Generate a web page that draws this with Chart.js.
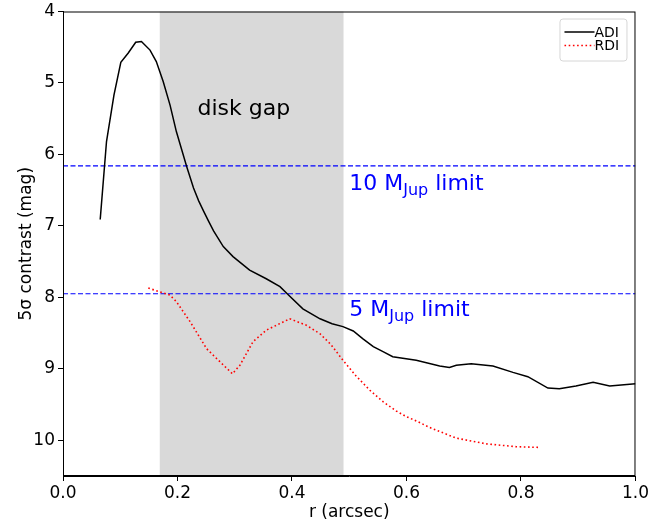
<!DOCTYPE html>
<html>
<head>
<meta charset="utf-8">
<script src="https://cdn.jsdelivr.net/npm/chart.js@4.4.1/dist/chart.umd.min.js"></script>
<style>
  body { margin: 0; background: #fff; }
</style>
</head>
<body>
<canvas id="myChart" width="651" height="527"></canvas>
<script>
// contrast curves, r in arcsec, contrast in mag
var adiR = [0.065, 0.076, 0.089, 0.101, 0.114, 0.127, 0.137, 0.152, 0.163, 0.175, 0.187, 0.198, 0.216, 0.228, 0.237,
    0.246, 0.254, 0.263, 0.280, 0.297, 0.326, 0.355, 0.379, 0.393, 0.419, 0.449, 0.470, 0.489, 0.507, 0.524, 0.542,
    0.559, 0.576, 0.617, 0.658, 0.675, 0.687, 0.713, 0.751, 0.786, 0.812, 0.847, 0.867, 0.896, 0.926, 0.955, 1.0]
var adiMag = [6.91, 5.82, 5.17, 4.71, 4.58, 4.43, 4.42, 4.54, 4.70, 4.98, 5.31, 5.68, 6.17, 6.47, 6.65,
    6.80, 6.93, 7.07, 7.29, 7.43, 7.62, 7.74, 7.85, 7.96, 8.16, 8.30, 8.37, 8.41, 8.47, 8.58, 8.69,
    8.76, 8.83, 8.88, 8.96, 8.98, 8.95, 8.93, 8.96, 9.05, 9.11, 9.27, 9.28, 9.24, 9.19, 9.24, 9.21]
var rdiR = [0.149, 0.187, 0.198, 0.222, 0.251, 0.274, 0.296, 0.309, 0.332, 0.355, 0.396, 0.425, 0.449, 0.468,
    0.489, 0.512, 0.536, 0.559, 0.582, 0.600, 0.620, 0.640, 0.687, 0.739, 0.792, 0.832]
var rdiMag = [7.87, 7.97, 8.06, 8.34, 8.72, 8.90, 9.07, 8.95, 8.62, 8.46, 8.30, 8.39, 8.51, 8.66,
    8.88, 9.10, 9.30, 9.46, 9.59, 9.67, 9.74, 9.82, 9.97, 10.05, 10.09, 10.10]

var gap = [0.169, 0.490]
var limitMag = [6.16, 7.95]
var limitNames = ['10', '5']
var limitTextPos = [[0.5, 6.5], [0.5, 8.26]]
var xTicks = [0.0, 0.2, 0.4, 0.6, 0.8, 1.0]
var yTicks = [4, 5, 6, 7, 8, 9, 10]

function pairs(xs, ys) {
    var out = []
    for (var i = 0; i < xs.length; i++) out.push({ x: xs[i], y: ys[i] })
    return out
}

var FONT = "'DejaVu Sans', sans-serif"

var annot = {
    id: 'annot',
    beforeDatasetsDraw: function (chart) {
        var c = chart.ctx, a = chart.chartArea
        var xs = chart.scales.x
        c.save()
        c.fillStyle = '#d9d9d9'
        var x0 = xs.getPixelForValue(gap[0]), x1 = xs.getPixelForValue(gap[1])
        c.fillRect(x0, a.top, x1 - x0, a.bottom - a.top)
        c.restore()
    },
    afterDraw: function (chart) {
        var c = chart.ctx, a = chart.chartArea
        var xs = chart.scales.x, ys = chart.scales.y
        c.save()
        // frame
        c.strokeStyle = '#000'
        c.lineWidth = 1
        c.strokeRect(a.left + 0.5, a.top + 0.5, a.right - a.left - 1, a.bottom - a.top - 1)

        // disk gap label
        c.fillStyle = '#000'
        c.font = '22px ' + FONT
        c.textBaseline = 'alphabetic'
        c.textAlign = 'left'
        c.fillText('disk gap', xs.getPixelForValue(0.235), ys.getPixelForValue(5.45))

        // limit labels with subscript
        c.fillStyle = '#0000ff'
        for (var i = 0; i < limitNames.length; i++) {
            var px = xs.getPixelForValue(limitTextPos[i][0])
            var py = ys.getPixelForValue(limitTextPos[i][1])
            c.font = '22px ' + FONT
            var t1 = limitNames[i] + ' M'
            c.fillText(t1, px, py)
            px += c.measureText(t1).width
            c.font = '16px ' + FONT
            c.fillText('Jup', px, py + 5)
            px += c.measureText('Jup').width
            c.font = '22px ' + FONT
            c.fillText(' limit', px, py)
        }

        // legend
        var lx = a.right - 76, ly = a.top + 7, lw = 67, lh = 42
        c.fillStyle = 'rgba(255,255,255,0.8)'
        c.strokeStyle = '#d6d6d6'
        c.lineWidth = 1
        c.beginPath()
        c.roundRect(lx + 0.5, ly + 0.5, lw, lh, 3)
        c.fill()
        c.stroke()
        var ds = chart.data.datasets.slice(0, 2)
        c.font = '14px ' + FONT
        c.textBaseline = 'middle'
        for (var j = 0; j < ds.length; j++) {
            var yy = ly + 13.5 + j * 13.5
            c.strokeStyle = ds[j].borderColor
            c.lineWidth = ds[j].borderWidth
            c.setLineDash(ds[j].borderDash || [])
            c.beginPath()
            c.moveTo(lx + 5, yy)
            c.lineTo(lx + 35, yy)
            c.stroke()
            c.setLineDash([])
            c.fillStyle = '#000'
            c.fillText(ds[j].label, lx + 35, yy + 1)
        }
        c.restore()
    }
}

function Graphic() {
    var ctx = document.getElementById('myChart')
    var datasets = [{
        label: 'ADI',
        data: pairs(adiR, adiMag),
        borderColor: '#000000',
        backgroundColor: '#000000',
        borderWidth: 1.5,
        pointRadius: 0,
        tension: 0
    },
    {
        label: 'RDI',
        data: pairs(rdiR, rdiMag),
        borderColor: '#ff0000',
        backgroundColor: '#ff0000',
        borderWidth: 1.6,
        borderDash: [1.6, 2.6],
        pointRadius: 0,
        tension: 0
    }]
    for (var i = 0; i < limitMag.length; i++) {
        datasets.push({
            label: limitNames[i] + ' MJup',
            data: [{ x: 0, y: limitMag[i] }, { x: 1, y: limitMag[i] }],
            borderColor: '#0000ff',
            borderWidth: 1.2,
            borderDash: [5, 2.5],
            pointRadius: 0
        })
    }

    new Chart(ctx, {
        type: 'line',
        data: { datasets: datasets },
        options: {
            responsive: false,
            animation: false,
            events: [],
            layout: { padding: { top: 10, right: 15, left: 0, bottom: 0 } },
            plugins: { legend: { display: false }, tooltip: { enabled: false } },
            scales: {
                x: {
                    type: 'linear',
                    min: 0,
                    max: 1,
                    afterBuildTicks: function (s) { s.ticks = xTicks.map(function (v) { return { value: v } }) },
                    afterFit: function (s) { s.height = 51 },
                    grid: { drawOnChartArea: false, drawTicks: true, tickLength: 5, color: '#000' },
                    border: { display: true, color: '#000' },
                    ticks: {
                        color: '#000', padding: 2, maxRotation: 0,
                        font: { family: FONT, size: 17 },
                        callback: function (v) { return v.toFixed(1) }
                    },
                    title: { display: true, text: 'r (arcsec)', color: '#000', font: { family: FONT, size: 17 }, padding: { top: 0, bottom: 4 } }
                },
                y: {
                    type: 'linear',
                    reverse: true,
                    min: 4,
                    max: 10.5,
                    afterBuildTicks: function (s) { s.ticks = yTicks.map(function (v) { return { value: v } }) },
                    afterFit: function (s) { s.width = 63 },
                    grid: { drawOnChartArea: false, drawTicks: true, tickLength: 5, color: '#000' },
                    border: { display: true, color: '#000' },
                    ticks: {
                        color: '#000', padding: 3,
                        font: { family: FONT, size: 17, lineHeight: 1 }
                    },
                    title: { display: true, text: '5σ contrast (mag)', color: '#000', font: { family: FONT, size: 17 }, padding: { top: 16, bottom: 0 } }
                }
            }
        },
        plugins: [annot]
    })
}

window.addEventListener('load', Graphic)
</script>
</body>
</html>
